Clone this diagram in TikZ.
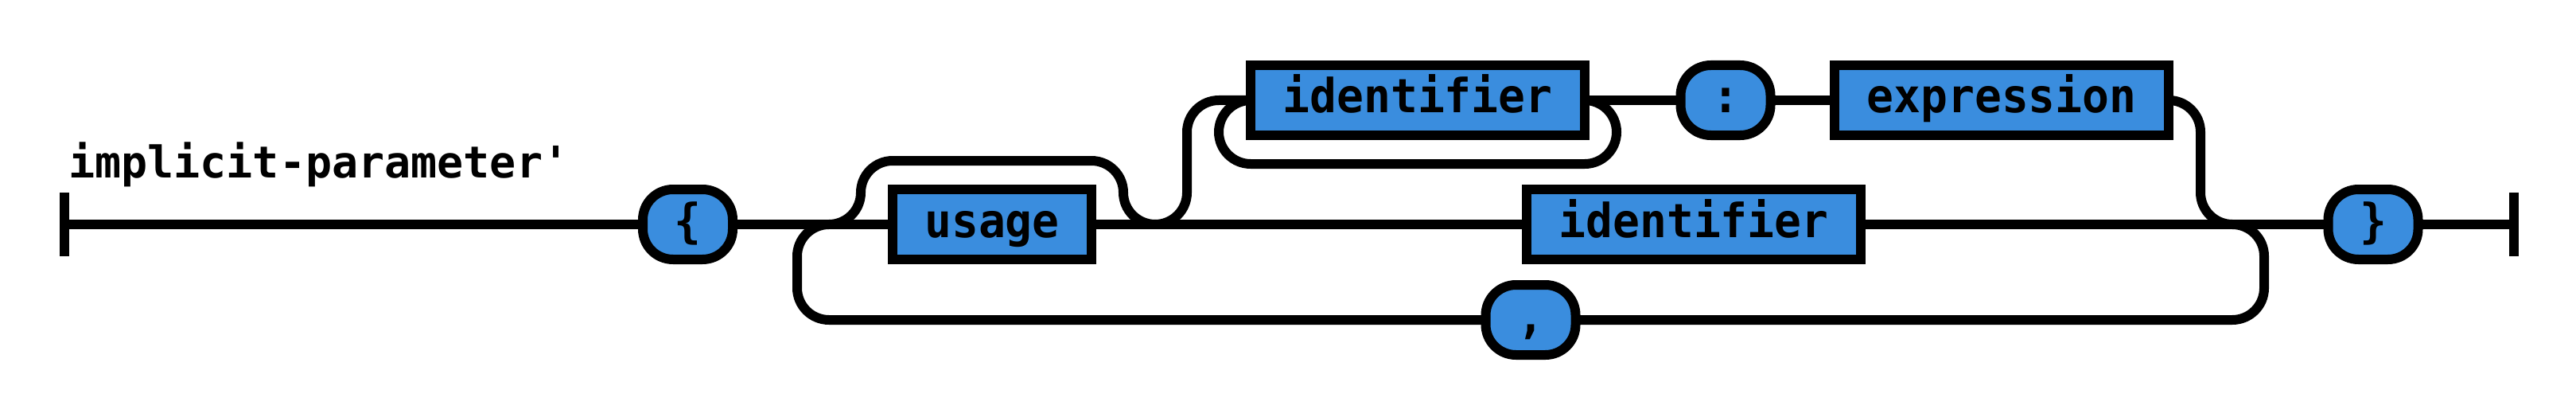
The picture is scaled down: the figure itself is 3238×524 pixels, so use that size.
\documentclass[tikz,border=0pt]{standalone}
\usepackage{fontspec}
\newfontfamily\rrfont{DejaVu Sans Mono}
\newfontfamily\rrboxfont[FakeStretch=0.955]{DejaVu Sans Mono}
\usetikzlibrary{calc}
\definecolor{rrblue}{RGB}{58,141,222}
\pgfdeclarelayer{bg}
\pgfsetlayers{bg,main}
\tikzset{
  rrline/.style={line width=12pt, line cap=butt, line join=round, rounded corners=40pt},
  rrnode/.style={draw=black, fill=rrblue, line width=12pt, minimum height=88pt, inner sep=0pt, outer sep=0pt,
    text height=32pt, text depth=0pt, font=\rrboxfont\bfseries\fontsize{59}{62}\selectfont},
  nonterm/.style={rrnode, rectangle},
  term/.style={rrnode, rounded corners=38pt},
  endbar/.style={line width=12pt, line cap=butt}
}
\begin{document}
\begin{tikzpicture}[x=1pt, y=-1pt]
\useasboundingbox (0,0) rectangle (3238,524);
% title
\node[anchor=base west, inner sep=0pt, font=\rrfont\bfseries\fontsize{55}{60}\selectfont] (title) at (86,223) {implicit-parameter'};
% nodes
\node[term, minimum width=113pt] (lb) at (864.5,282) {\{};
\node[nonterm, minimum width=250pt] (usage) at (1247,282) {usage};
\node[nonterm, minimum width=420pt] (id1) at (1782,126) {identifier};
\node[term, minimum width=113pt] (colon) at (2169,126) {:};
\node[nonterm, minimum width=420pt] (expr) at (2516,126) {expression};
\node[nonterm, minimum width=420pt] (id2) at (2129,282) {identifier};
\node[term, minimum width=113pt] (comma) at (1924,402) {,};
\node[term, minimum width=113pt] (rb) at (2983,282) {\}};
% coordinates
\coordinate (s) at (81,282);
\coordinate (e) at (3160,282);
\coordinate (j1) at (1042,282);
\coordinate (j2) at (1452,282);
\coordinate (j3) at (2806,282);
% end bars
\draw[endbar] ($(s)+(0,-40)$) -- ($(s)+(0,40)$);
\draw[endbar] ($(e)+(0,-40)$) -- ($(e)+(0,40)$);
\begin{pgfonlayer}{bg}
\draw[rrline] (s) -- (lb.west);
\draw[rrline] (lb.east) -- (usage.west);
\draw[rrline] (usage.east) -- (id2.west);
\draw[rrline] (id2.east) -- (rb.west);
\draw[rrline] (rb.east) -- (e);
% bypass over usage
\draw[rrline] (j1) -- ++(40,0) -- ++(0,-80) -- ($(j2)+(-40,-80)$) -- ($(j2)+(-40,0)$) -- (j2);
% upper branch
\draw[rrline] (j2) -- ++(40,0) |- (id1.west);
% loop under identifier
\draw[rrline] (id1.west) -- ++(-40,0) -- ++(0,80) -| ($(id1.east)+(40,0)$) -- (id1.east);
\draw[rrline] (id1.east) -- (colon.west);
\draw[rrline] (colon.east) -- (expr.west);
\draw[rrline] (expr.east) -- ++(40,0) |- (j3);
% repetition with comma
\draw[rrline] (j3) -- ++(40,0) |- (comma.east);
\draw[rrline] (comma.west) -| ($(j1)+(-40,0)$) -- (j1);
\end{pgfonlayer}
\end{tikzpicture}
\end{document}
